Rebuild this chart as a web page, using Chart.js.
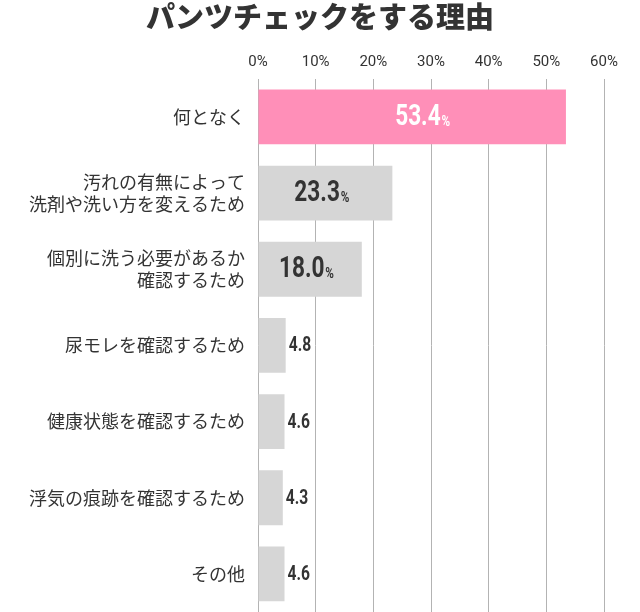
<!DOCTYPE html>
<html>
<head>
<meta charset="utf-8">
<script src="https://cdn.jsdelivr.net/npm/chart.js@4"></script>
<style>
  html, body { margin: 0; padding: 0; background: #fff; }
  #wrap { width: 640px; height: 612px; }
</style>
</head>
<body>
<div id="wrap"><canvas id="myChart" width="640" height="612"></canvas></div>
<script>
const titleText = "パンツチェックをする理由";
const categories = [
  ["何となく"],
  ["汚れの有無によって", "洗剤や洗い方を変えるため"],
  ["個別に洗う必要があるか", "確認するため"],
  ["尿モレを確認するため"],
  ["健康状態を確認するため"],
  ["浮気の痕跡を確認するため"],
  ["その他"]
];
const values = [53.4, 23.3, 18.0, 4.8, 4.6, 4.3, 4.6];
const tickValues = [0, 10, 20, 30, 40, 50, 60];

const pink = "#ff8fb8";
const grey = "#d6d6d6";
const textColor = "#333333";
const jpFont = "'Noto Sans CJK JP', 'Noto Sans', sans-serif";
const numFont = "Roboto, 'DejaVu Sans', sans-serif";

const barColors = values.map((v, i) => (i === 0 ? pink : grey));

// draws the value labels, condensed look via horizontal scale
const valueLabels = {
  id: "valueLabels",
  afterDatasetsDraw(chart) {
    const ctx = chart.ctx;
    const meta = chart.getDatasetMeta(0);
    const sx = 0.78;
    meta.data.forEach((bar, i) => {
      const v = values[i];
      const txt = v.toFixed(1);
      ctx.save();
      ctx.textBaseline = "middle";
      if (v >= 10) {
        ctx.font = "bold 29px " + numFont;
        const w1 = ctx.measureText(txt).width * sx;
        ctx.font = "bold 15px " + numFont;
        const w2 = ctx.measureText("%").width * sx;
        const cx = (bar.base + bar.x) / 2 + (i === 0 ? 10 : -4);
        const left = cx - (w1 + w2) / 2;
        ctx.fillStyle = i === 0 ? "#ffffff" : textColor;
        ctx.translate(left, bar.y + 1);
        ctx.scale(sx, 1);
        ctx.font = "bold 29px " + numFont;
        ctx.textAlign = "left";
        ctx.fillText(txt, 0, 0);
        ctx.font = "bold 15px " + numFont;
        ctx.fillText("%", w1 / sx + 1, 4);
      } else {
        ctx.fillStyle = textColor;
        ctx.translate(bar.x + 3, bar.y + 1);
        ctx.scale(sx, 1);
        ctx.font = "bold 20px " + numFont;
        ctx.textAlign = "left";
        ctx.fillText(txt, 0, 0);
      }
      ctx.restore();
    });
  }
};

const ctx = document.getElementById("myChart");

new Chart(ctx, {
  type: "bar",
  data: {
    labels: categories,
    datasets: [
      {
        data: values,
        backgroundColor: barColors,
        borderWidth: 0,
        barPercentage: 0.72,
        categoryPercentage: 1.0
      }
    ]
  },
  options: {
    indexAxis: "y",
    responsive: false,
    animation: false,
    layout: { padding: 0 },
    plugins: {
      legend: { display: false },
      tooltip: { enabled: false },
      title: {
        display: true,
        text: titleText,
        color: textColor,
        font: { family: jpFont, size: 29, weight: "900" },
        padding: { top: 0, bottom: 10 }
      }
    },
    scales: {
      x: {
        position: "top",
        min: 0,
        max: 60,
        afterBuildTicks(scale) {
          scale.ticks = tickValues.map(v => ({ value: v }));
        },
        grid: { color: "#b3b3b3", lineWidth: 1, drawTicks: false },
        border: { display: false },
        ticks: {
          color: textColor,
          padding: 8,
          font: { family: numFont, size: 15 },
          callback: v => v + "%"
        }
      },
      y: {
        grid: { display: false },
        border: { display: false },
        afterFit(scale) {
          scale.width = 258;
          scale.paddingTop = 0;
          scale.paddingBottom = 0;
        },
        ticks: {
          color: textColor,
          padding: 5,
          font: { family: jpFont, size: 18 }
        }
      },
      // empty right axis keeping the plot area off the right edge
      yRight: {
        type: "category",
        position: "right",
        grid: { display: false },
        border: { display: false },
        ticks: { display: false },
        afterFit(scale) {
          scale.width = 36;
          scale.paddingTop = 0;
          scale.paddingBottom = 0;
        }
      }
    }
  },
  plugins: [valueLabels]
});
</script>
</body>
</html>
